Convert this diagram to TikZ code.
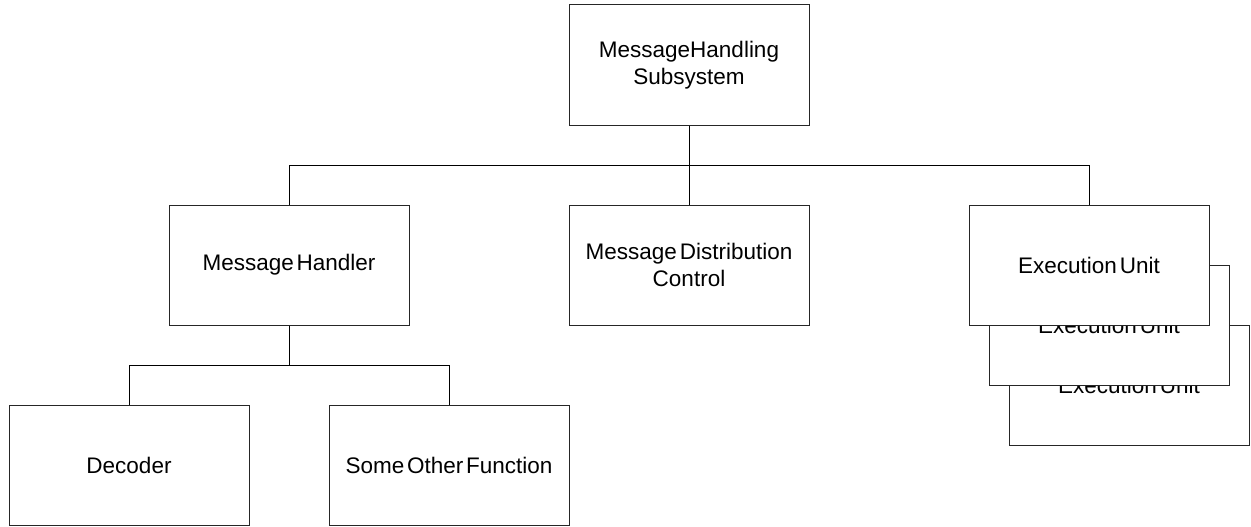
\documentclass[tikz,border=0pt]{standalone}
\usepackage{fontspec}
\setmainfont{Liberation Sans}[WordSpace=0.45]
\begin{document}
\begin{tikzpicture}[x=1pt,y=-1pt,
  box/.style={draw=black!85,line width=1pt,fill=white,rectangle,minimum width=240pt,minimum height=120pt,inner sep=0pt,align=center,font=\fontsize{22.5}{27}\selectfont},
  link/.style={draw=black,line width=1pt}]
\useasboundingbox (0,0) rectangle (1251,527);
\node[box] (top) at (689,65) {MessageHandling\\Subsystem};
\node[box] (mh) at (289,265) {Message Handler};
\node[box] (mdc) at (689,265) {Message Distribution\\Control};
\node[box] (eu3) at (1129,385) {Execution Unit};
\node[box] (eu2) at (1109,325) {Execution Unit};
\node[box] (eu1) at (1089,265) {Execution Unit};
\node[box] (dec) at (129,465) {Decoder};
\node[box] (sof) at (449,465) {Some Other Function};
\coordinate (j1) at (689,165);
\coordinate (j2) at (289,365);
\draw[link] (top.south) -- (j1);
\draw[link] (mh.north) -- (mh.north |- j1) -- (eu1.north |- j1) -- (eu1.north);
\draw[link] (j1) -- (mdc.north);
\draw[link] (mh.south) -- (j2);
\draw[link] (dec.north) -- (dec.north |- j2) -- (sof.north |- j2) -- (sof.north);
\end{tikzpicture}
\end{document}
